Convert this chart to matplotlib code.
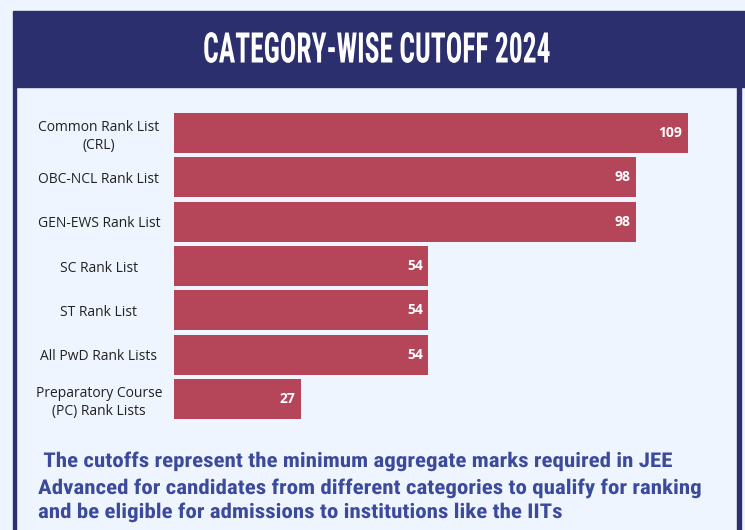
import matplotlib
matplotlib.use("Agg")
from matplotlib import pyplot as plt
from matplotlib import font_manager
from matplotlib.patches import Rectangle
from matplotlib.patheffects import AbstractPathEffect
from matplotlib.transforms import Affine2D
import numpy as np

categories = [
    "Common Rank List\n(CRL)",
    "OBC-NCL Rank List",
    "GEN-EWS Rank List",
    "SC Rank List",
    "ST Rank List",
    "All PwD Rank Lists",
    "Preparatory Course\n(PC) Rank Lists",
]
cutoffs = [109, 98, 98, 54, 54, 54, 27]

title = "CATEGORY-WISE CUTOFF 2024"
note_lines = [
    " The cutoffs represent the minimum aggregate marks required in JEE",
    "Advanced for candidates from different categories to qualify for ranking",
    "and be eligible for admissions to institutions like the IITs",
]

bg = "#eef5fe"
navy = "#2c2f6e"
bar_color = "#b5465a"
note_color = "#3c4a9c"

W, H = 745, 530

# pick a narrow font if one is installed, else plain Roboto
have = {f.name for f in font_manager.fontManager.ttflist}
narrow = "Roboto"
for cand in ["Roboto Condensed", "Liberation Sans Narrow", "Open Sans Condensed"]:
    if cand in have:
        narrow = cand
        break


class VStretch(AbstractPathEffect):
    # stretch glyphs vertically about a display-y line
    def __init__(self, sy, cy):
        super().__init__()
        self.sy = sy
        self.cy = cy

    def draw_path(self, renderer, gc, tpath, affine, rgbFace=None):
        t = affine + Affine2D().translate(0, -self.cy).scale(1, self.sy).translate(0, self.cy)
        renderer.draw_path(gc, tpath, t, rgbFace)


fig = plt.figure(figsize=(W / 100, H / 100), dpi=100)
fig.patch.set_facecolor(bg)
renderer = fig.canvas.get_renderer()


def px_rect(x0, y0, x1, y1, color):
    fig.patches.append(Rectangle((x0 / W, 1 - y1 / H), (x1 - x0) / W, (y1 - y0) / H,
                                 transform=fig.transFigure, color=color, zorder=0))


def fit_text(x, y, s, width_px, cap_px, ref=None, **kw):
    # size font so that `ref` string spans width_px, then stretch to cap_px tall
    t = fig.text(x / W, 1 - y / H, ref or s, fontsize=20, **kw)
    w = t.get_window_extent(renderer).width
    size = 20 * width_px / w
    t.set_fontsize(size)
    t.set_text(s)
    cap_now = 0.711 * size * 100 / 72
    t.set_path_effects([VStretch(cap_px / cap_now, H - y)])
    return t


px_rect(13, 11, 745, 87, navy)
px_rect(13, 87, 16.5, 530, navy)
px_rect(737, 87, 740.5, 530, navy)

fit_text(377, 62.5, title, 347, 30, color="white", fontweight="bold",
         family=narrow, ha="center", va="baseline")

# bar chart area
ax = fig.add_axes([174 / W, 1 - 421.2 / H, (687.7 - 174) / W, 310.3 / H])
ax.set_facecolor("none")
y = np.arange(len(categories))
bars = ax.barh(y, cutoffs, height=0.9, color=bar_color)
ax.set_xlim(0, max(cutoffs))
ax.set_ylim(len(categories) - 0.5, -0.5)
for s in ax.spines.values():
    s.set_visible(False)
ax.set_xticks([])
ax.set_yticks(y)
ax.set_yticklabels(categories, fontsize=10, color="#222222", family="Open Sans",
                   ha="center", linespacing=1.3)
ax.tick_params(axis="y", length=0, pad=54)

for b, v in zip(bars, cutoffs):
    ax.annotate(str(v), (b.get_width(), b.get_y() + b.get_height() / 2),
                xytext=(-4, 0), textcoords="offset points",
                ha="right", va="center", color="white", fontsize=10,
                fontweight="bold", family="Open Sans")

# footnote: same font size for all lines, fitted on the widest one
probe = fig.text(0, 0, note_lines[1], fontsize=20, fontweight="bold", family=narrow)
note_size = 20 * 662 / probe.get_window_extent(renderer).width
probe.remove()
note_sy = 14.5 / (0.711 * note_size * 100 / 72)
baselines = [467, 494, 518]
for line, yb in zip(note_lines, baselines):
    t = fig.text(38 / W, 1 - yb / H, line, color=note_color, fontsize=note_size,
                 fontweight="bold", family=narrow, ha="left", va="baseline")
    t.set_path_effects([VStretch(note_sy, H - yb)])

fig.savefig("out.png", dpi=100, facecolor=bg)
